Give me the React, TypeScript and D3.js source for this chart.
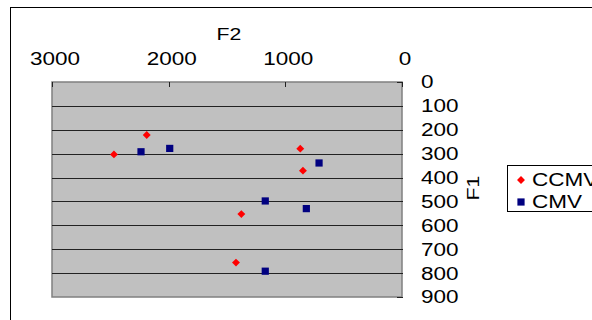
import * as d3 from 'd3'

const F2_TICKS = [3000, 2000, 1000, 0]
const F1_TICKS = [0, 100, 200, 300, 400, 500, 600, 700, 800, 900]

const CCMV_F2 = [2188, 2469, 872, 849, 1377, 1423]
const CCMV_F1 = [222, 303, 279, 371, 553, 756]
const CMV_F2 = [2237, 1991, 711, 1172, 820, 1172]
const CMV_F1 = [292, 278, 339, 498, 530, 792]

const W = 592
const H = 320
const PLOT = { left: 52, right: 402, top: 82, bottom: 297 }
const FONT = "'Liberation Sans', Arial, sans-serif"
const RED = '#FF0000'
const NAVY = '#000080'

// the original's lettering is a stretched Arial, so widen it a bit
function Label({ x, y, children, anchor = 'start', size = 18, rotate = 0 }: {
  x: number; y: number; children: any; anchor?: string; size?: number; rotate?: number
}) {
  return (
    <g transform={`translate(${x},${y}) rotate(${rotate}) scale(1.25,1)`}>
      <text textAnchor={anchor} dy="0.36em" fontFamily={FONT} fontSize={size} fill="#000">{children}</text>
    </g>
  )
}

export default function App() {
  const x = d3.scaleLinear().domain([3000, 0]).range([PLOT.left, PLOT.right])
  const y = d3.scaleLinear().domain([0, 900]).range([PLOT.top, PLOT.bottom])
  const diamond = d3.symbol(d3.symbolDiamond2, 40)()
  const square = d3.symbol(d3.symbolSquare, 52)()

  return (
    <div style={{ position: 'fixed', left: 0, top: 0, width: W, height: H, background: '#fff' }}>
      <svg width={W} height={H} style={{ display: 'block' }}>
        <rect x={10.5} y={7.5} width={600} height={330} fill="#fff" stroke="#000" strokeWidth={1} />

        <rect x={PLOT.left} y={PLOT.top} width={PLOT.right - PLOT.left} height={PLOT.bottom - PLOT.top}
          fill="#C0C0C0" stroke="#808080" strokeWidth={1.5} />

        {F1_TICKS.slice(1, -1).map((t) => (
          <line key={t} x1={PLOT.left} x2={PLOT.right} y1={Math.round(y(t)) + 0.5} y2={Math.round(y(t)) + 0.5}
            stroke="#222" strokeWidth={1} />
        ))}
        {F1_TICKS.map((t) => (
          <line key={'yt' + t} x1={PLOT.right - 5} x2={PLOT.right + 1} y1={Math.round(y(t)) + 0.5} y2={Math.round(y(t)) + 0.5}
            stroke="#222" strokeWidth={1} />
        ))}
        {F2_TICKS.map((t) => (
          <line key={'xt' + t} x1={Math.round(x(t)) + 0.5} x2={Math.round(x(t)) + 0.5} y1={PLOT.top} y2={PLOT.top + 5}
            stroke="#222" strokeWidth={1} />
        ))}

        {F2_TICKS.map((t) => (
          <Label key={'xl' + t} x={x(t) + 3} y={58.5} anchor="middle">{t}</Label>
        ))}
        <Label x={229} y={34} anchor="middle" size={17}>F2</Label>

        {F1_TICKS.map((t) => (
          <Label key={'yl' + t} x={421} y={y(t)}>{t}</Label>
        ))}
        <Label x={473} y={188} anchor="middle" size={17} rotate={-90}>F1</Label>

        {CCMV_F2.map((f2, i) => (
          <path key={'r' + i} d={diamond} transform={`translate(${x(f2)},${y(CCMV_F1[i])})`} fill={RED} />
        ))}
        {CMV_F2.map((f2, i) => (
          <path key={'b' + i} d={square} transform={`translate(${x(f2)},${y(CMV_F1[i])})`} fill={NAVY} />
        ))}

        <g>
          <rect x={507.5} y={165.5} width={100} height={46} fill="#fff" stroke="#000" strokeWidth={1} />
          <path d={diamond} transform="translate(521,180)" fill={RED} />
          <Label x={532} y={180}>CCMV</Label>
          <path d={square} transform="translate(521,202)" fill={NAVY} />
          <Label x={532} y={202}>CMV</Label>
        </g>
      </svg>
    </div>
  )
}
